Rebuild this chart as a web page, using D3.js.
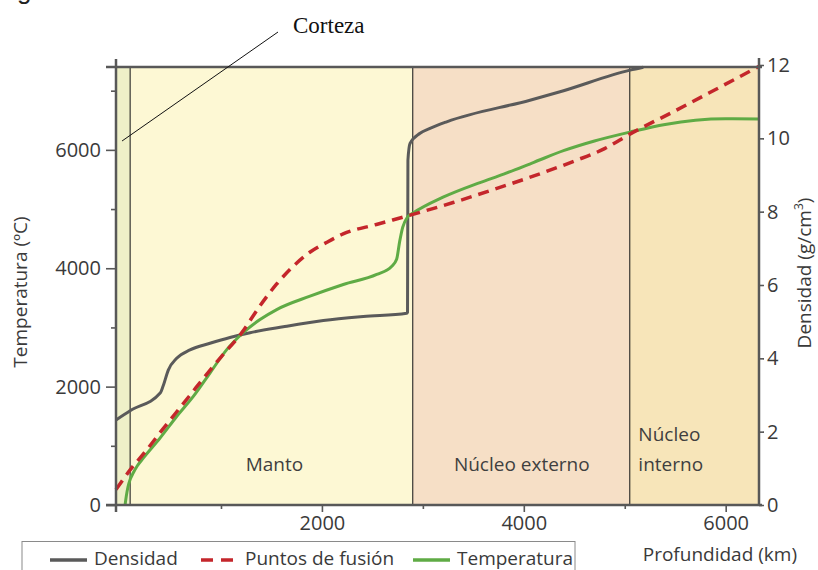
<!DOCTYPE html>
<html>
<head>
<meta charset="utf-8">
<script src="https://cdn.jsdelivr.net/npm/d3@7"></script>
<style>
  body { margin: 0; background: #fff; }
  svg { display: block; font-family: 'Open Sans', sans-serif; }
</style>
</head>
<body>
<svg id="canvas" width="818" height="570"></svg>
<script>
// depth (km), density (g/cm3)
let densidad = [
    [-40, 2.32], [100, 2.57], [400, 3.06], [425, 3.23], [478, 3.68], [561, 4.0],
    [693, 4.23], [891, 4.41], [1089, 4.57], [1288, 4.70], [1617, 4.86], [2014, 5.03],
    [2410, 5.14], [2840, 5.23], [2848, 5.26], [2852, 9.4], [2873, 9.86], [2972, 10.14],
    [3071, 10.27], [3236, 10.45], [4061, 11.04], [4359, 11.27], [5052, 11.86], [5184, 11.94]
]
// depth (km), temperature (ºC)
let puntosFusion = [
    [-40, 260], [100, 593], [250, 900], [400, 1230], [550, 1550], [700, 1870],
    [850, 2190], [1000, 2500], [1205, 2908], [1380, 3350], [1550, 3730], [1720, 4040],
    [1880, 4270], [2050, 4440], [2210, 4580], [2540, 4740], [2900, 4910], [3300, 5110],
    [3700, 5330], [4100, 5560], [4500, 5810], [4800, 6020], [5050, 6266], [5500, 6660],
    [5900, 7020], [6330, 7410]
]
let temperatura = [
    [50, 0], [62, 150], [78, 300], [100, 430], [130, 540], [170, 660], [230, 791], [396, 1130],
    [561, 1495], [726, 1834], [891, 2230], [1057, 2625], [1220, 2910], [1387, 3133],
    [1552, 3302], [1882, 3528], [2212, 3726], [2543, 3895], [2690, 4030], [2740, 4150],
    [2770, 4450], [2800, 4690], [2850, 4870], [2900, 4930], [3200, 5200], [3566, 5448],
    [3800, 5590], [4100, 5790], [4400, 5990], [4700, 6150], [5050, 6300], [5400, 6430],
    [5700, 6500], [6000, 6525], [6330, 6520]
]

let capas = ['Corteza', 'Manto', 'Núcleo externo', 'Núcleo interno']
let limites = [-40, 100, 2900, 5050, 6330]
let colores = ['#eef0c8', '#fdf8d4', '#f6dfc6', '#f7e5b9']

let xTicks = [2000, 4000, 6000]
let xMinor = [1000, 3000, 5000]
let tTicks = [0, 2000, 4000, 6000]
let tMinor = [1000, 3000, 5000, 7000]
let dTicks = [0, 2, 4, 6, 8, 10, 12]

let svg = d3.select('#canvas')

let x = d3.scaleLinear().domain([-40, 6330]).range([116, 759])
let yT = d3.scaleLinear().domain([0, 7400]).range([505, 67])
let yD = d3.scaleLinear().domain([0, 12]).range([505, 65])

let axisColor = '#585858'

// partial text cut at top of page
svg.append('text')
    .attr('x', 17).attr('y', -1)
    .attr('font-family', 'Liberation Sans')
    .attr('font-size', 26)
    .attr('fill', '#222')
    .text('gráfico')

// layer backgrounds
svg.selectAll('rect.capa')
    .data(capas)
    .enter()
    .append('rect')
    .attr('class', 'capa')
    .attr('x', (d, i) => x(limites[i]))
    .attr('width', (d, i) => x(limites[i + 1]) - x(limites[i]))
    .attr('y', yT.range()[1])
    .attr('height', yT.range()[0] - yT.range()[1])
    .attr('fill', (d, i) => colores[i])

svg.selectAll('line.limite')
    .data(limites.slice(1, 4))
    .enter()
    .append('line')
    .attr('class', 'limite')
    .attr('x1', d => x(d)).attr('x2', d => x(d))
    .attr('y1', yT.range()[1]).attr('y2', yT.range()[0])
    .attr('stroke', '#111')
    .attr('stroke-width', 1)

// layer labels
let labelColor = '#3f3f3f'
svg.append('text')
    .attr('x', x(1530)).attr('y', 471)
    .attr('text-anchor', 'middle')
    .attr('font-size', 19).attr('fill', labelColor)
    .text(capas[1])
svg.append('text')
    .attr('x', x(3980)).attr('y', 471)
    .attr('text-anchor', 'middle')
    .attr('font-size', 19).attr('fill', labelColor)
    .text(capas[2])
let interno = svg.append('text')
    .attr('x', x(5135)).attr('y', 441)
    .attr('font-size', 19).attr('fill', labelColor)
interno.append('tspan').text('Núcleo')
interno.append('tspan').attr('x', x(5135)).attr('dy', 30).text('interno')

// curves
let line = d3.line()
    .x(d => x(d[0]))
    .curve(d3.curveMonotoneX)

svg.append('path')
    .datum(densidad)
    .attr('d', line.y(d => yD(d[1])))
    .attr('fill', 'none')
    .attr('stroke', '#5a5a5a')
    .attr('stroke-width', 3)

svg.append('path')
    .datum(temperatura)
    .attr('d', line.y(d => yT(d[1])))
    .attr('fill', 'none')
    .attr('stroke', '#5fab45')
    .attr('stroke-width', 3)

svg.append('path')
    .datum(puntosFusion)
    .attr('d', line.y(d => yT(d[1])))
    .attr('fill', 'none')
    .attr('stroke', '#c4262b')
    .attr('stroke-width', 3.5)
    .attr('stroke-dasharray', '11,7')

// frame lines
let frame = svg.append('g')
    .attr('stroke', axisColor)
    .attr('stroke-width', 2.5)
frame.append('line')
    .attr('x1', x.range()[0] - 10).attr('x2', x.range()[1] + 3)
    .attr('y1', yT.range()[1]).attr('y2', yT.range()[1])
frame.append('line')
    .attr('x1', x.range()[0] - 10).attr('x2', x.range()[1] + 3)
    .attr('y1', yT.range()[0]).attr('y2', yT.range()[0])
frame.append('line')
    .attr('x1', x.range()[0]).attr('x2', x.range()[0])
    .attr('y1', yT.range()[1] - 8).attr('y2', yT.range()[0] + 7)
frame.append('line')
    .attr('x1', x.range()[1]).attr('x2', x.range()[1])
    .attr('y1', yT.range()[1] - 9).attr('y2', yT.range()[0])

let styleAxis = (g) => {
    g.select('.domain').remove()
    g.selectAll('.tick line').attr('stroke', axisColor).attr('stroke-width', 1.6)
    g.selectAll('.tick text')
        .attr('fill', '#3a3a3a')
        .attr('font-size', 20)
        .attr('font-family', 'Open Sans, sans-serif')
}

svg.append('g')
    .attr('transform', 'translate(' + x.range()[0] + ',0)')
    .call(d3.axisLeft(yT).tickValues(tTicks).tickSize(10).tickPadding(5).tickFormat(d3.format('d')))
    .call(styleAxis)
svg.append('g')
    .attr('transform', 'translate(' + x.range()[0] + ',0)')
    .call(d3.axisLeft(yT).tickValues(tMinor).tickSize(5).tickFormat(''))
    .call(styleAxis)

svg.append('g')
    .attr('transform', 'translate(0,' + yT.range()[0] + ')')
    .call(d3.axisBottom(x).tickValues(xTicks).tickSize(7).tickPadding(4).tickFormat(d3.format('d')))
    .call(styleAxis)
svg.append('g')
    .attr('transform', 'translate(0,' + yT.range()[0] + ')')
    .call(d3.axisBottom(x).tickValues(xMinor).tickSize(4).tickFormat(''))
    .call(styleAxis)

svg.append('g')
    .attr('transform', 'translate(' + x.range()[1] + ',0)')
    .call(d3.axisRight(yD).tickValues(dTicks).tickSize(5).tickPadding(3))
    .call(styleAxis)

// axis titles
svg.append('text')
    .attr('transform', 'translate(27,292) rotate(-90)')
    .attr('text-anchor', 'middle')
    .attr('font-size', 19).attr('fill', '#3a3a3a')
    .text('Temperatura (ºC)')

let dTitle = svg.append('text')
    .attr('transform', 'translate(811,273) rotate(-90)')
    .attr('text-anchor', 'middle')
    .attr('font-size', 19).attr('fill', '#3a3a3a')
dTitle.append('tspan').text('Densidad (g/cm')
dTitle.append('tspan').attr('font-size', 12).attr('dy', -8).text('3')
dTitle.append('tspan').attr('dy', 8).text(')')

svg.append('text')
    .attr('x', 797).attr('y', 561)
    .attr('text-anchor', 'end')
    .attr('font-size', 19).attr('fill', '#3a3a3a')
    .text('Profundidad (km)')

// Corteza annotation
svg.append('line')
    .attr('x1', x(20)).attr('y1', yT(6150))
    .attr('x2', 278).attr('y2', 32)
    .attr('stroke', '#111').attr('stroke-width', 1)
svg.append('text')
    .attr('x', 293).attr('y', 33)
    .attr('font-family', 'Liberation Serif, serif')
    .attr('font-size', 23).attr('fill', '#111')
    .text(capas[0])

// legend
let legend = svg.append('g').attr('id', 'legend')
legend.append('rect')
    .attr('x', 22).attr('y', 541.5)
    .attr('width', 553).attr('height', 50)
    .attr('fill', '#fff')
    .attr('stroke', '#8a8a8a').attr('stroke-width', 1)

let series = ['Densidad', 'Puntos de fusión', 'Temperatura']
let seriesColor = ['#5a5a5a', '#c4262b', '#5fab45']
let seriesDash = [null, '12,8', null]
let legendX = [50, 201, 413]

series.forEach((s, i) => {
    legend.append('line')
        .attr('x1', legendX[i]).attr('x2', legendX[i] + 37)
        .attr('y1', 560).attr('y2', 560)
        .attr('stroke', seriesColor[i])
        .attr('stroke-width', 3.5)
        .attr('stroke-dasharray', seriesDash[i])
    legend.append('text')
        .attr('x', legendX[i] + 44).attr('y', 565)
        .attr('font-size', 19).attr('fill', '#3a3a3a')
        .text(s)
})
</script>
</body>
</html>
